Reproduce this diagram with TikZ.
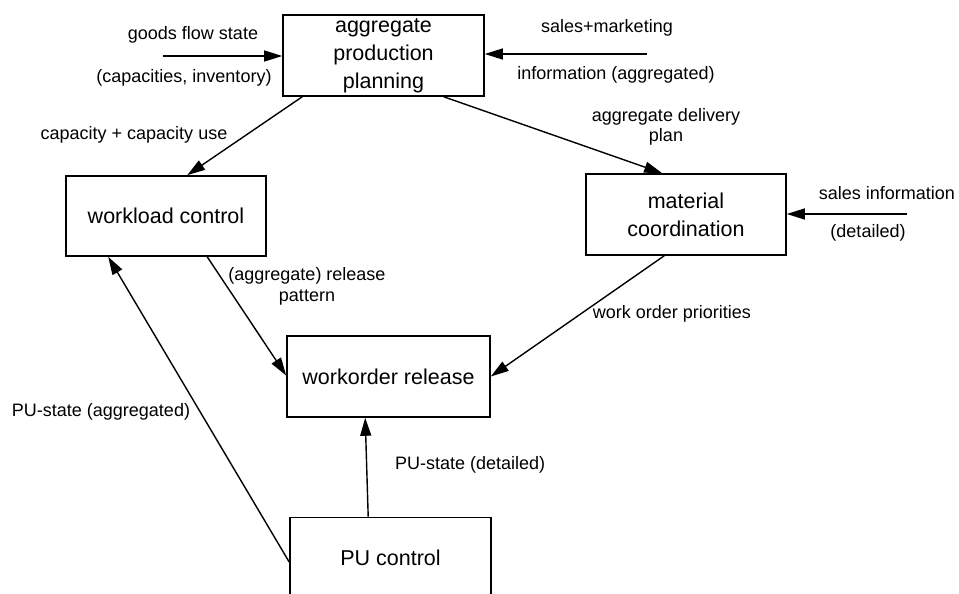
\documentclass[tikz,border=0pt]{standalone}
\usepackage{fontspec}
\setmainfont{Liberation Sans}
\usetikzlibrary{arrows.meta,calc}
\begin{document}
\begin{tikzpicture}[x=1pt,y=-1pt,
  block/.style={draw,line width=1.6pt,rectangle,inner sep=0pt,align=center,
    font=\fontsize{21.5}{28}\selectfont},
  flow/.style={line width=1.4pt,-{Triangle[length=18pt,width=11pt]}},
  lbl/.style={inner sep=0pt,align=center,font=\fontsize{18}{20.5}\selectfont}]
  \useasboundingbox (0,0) rectangle (959,594);
  \clip (0,0) rectangle (959,594);

  % boxes
  \node[block,minimum width=201pt,minimum height=81pt] (app) at (383.5,55.5)
    {aggregate\\production\\planning};
  \node[block,minimum width=200pt,minimum height=80pt] (wc) at (166,216)
    {workload control};
  \node[block,minimum width=200pt,minimum height=81pt] (mc) at (686,214.5)
    {material\\coordination};
  \node[block,minimum width=203pt,minimum height=81pt] (wr) at (388.5,376.5)
    {workorder release};
  \node[block,minimum width=201pt,minimum height=80pt] (pu) at (390.5,557.5)
    {PU control};

  % free ends of incoming flows
  \coordinate (goods) at (163,56);
  \coordinate (sales) at (647,54);
  \coordinate (salesinfo) at (907,214);

  % flows
  \draw[flow] (goods) -- (goods -| app.west);
  \draw[flow] (sales) -- (sales -| app.east);
  \draw[flow] (salesinfo) -- (salesinfo -| mc.east);
  \draw[flow] ($(app.south west)+(20,0)$) -- ($(wc.north west)+(122,0)$);
  \draw[flow] ($(app.south east)+(-41,0)$) -- ($(mc.north west)+(77,0)$);
  \draw[flow] ($(wc.south west)+(142,0)$) -- ($(wr.west)+(0,-1)$);
  \draw[flow] ($(mc.south west)+(79,0)$) -- (wr.east);
  \draw[flow] ($(pu.north west)+(79,0)$) -- ($(wr.south west)+(79,0)$);
  \draw[flow] ($(pu.west)+(0,4.5)$) -- ($(wc.south west)+(43,0)$);

  % flow labels
  \node[lbl] (l1) at (193,35) {goods flow state};
  \node[lbl] (l2) at (184,78) {(capacities, inventory)};
  \node[lbl] (l3) at (607,28) {sales+marketing};
  \node[lbl] (l4) at (616,75) {information (aggregated)};
  \node[lbl] (l5) at (134,135) {capacity + capacity use};
  \node[lbl] (l6) at (666,127) {aggregate delivery\\plan};
  \node[lbl] (l7) at (887,193) {sales information};
  \node[lbl] (l8) at (868,233) {(detailed)};
  \node[lbl] (l9) at (307,286.5) {(aggregate) release\\pattern};
  \node[lbl] (l10) at (672,314) {work order priorities};
  \node[lbl] (l11) at (101,412) {PU-state (aggregated)};
  \node[lbl,anchor=west] (l12) at (395,465) {PU-state (detailed)};
\end{tikzpicture}
\end{document}
